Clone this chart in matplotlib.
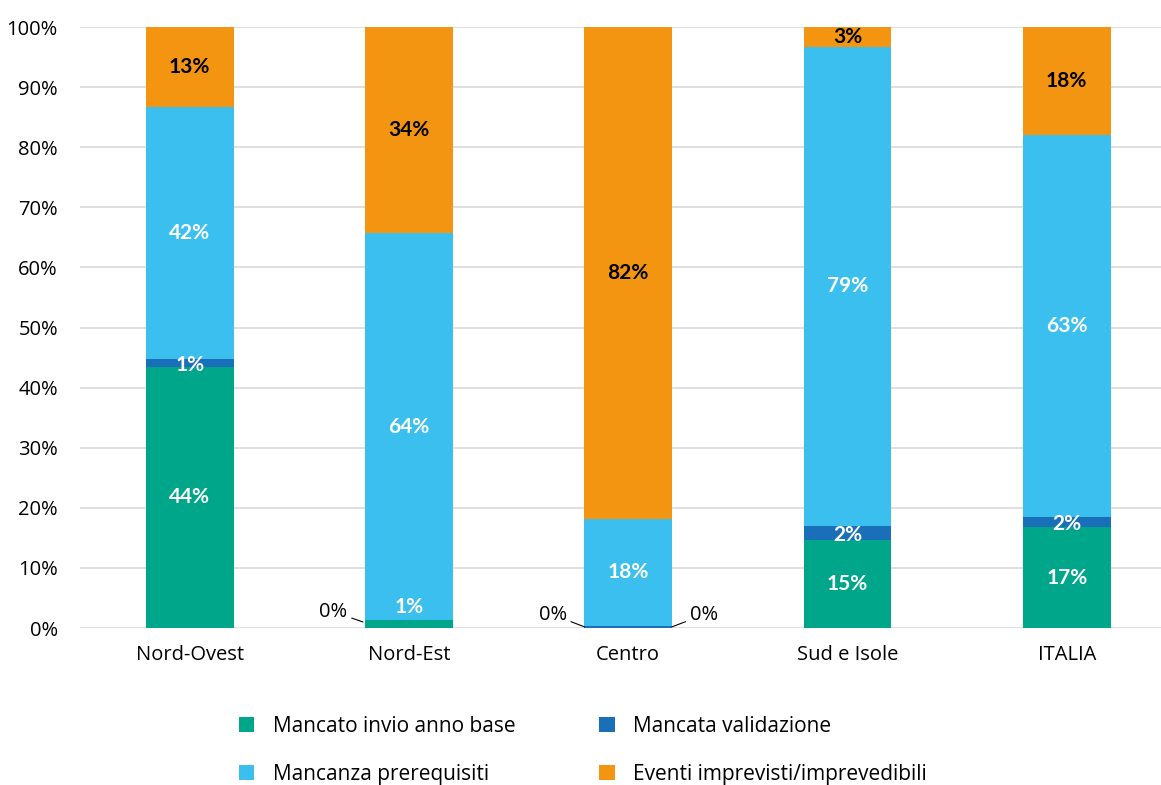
import matplotlib.pyplot as plt
import numpy as np

regioni = ['Nord-Ovest', 'Nord-Est', 'Centro', 'Sud e Isole', 'ITALIA']
serie = ['Mancato invio anno base', 'Mancata validazione',
         'Mancanza prerequisiti', 'Eventi imprevisti/imprevedibili']
invio = [43.5, 1.3, 0.0, 14.7, 16.8]
validazione = [1.2, 0.0, 0.3, 2.3, 1.7]
prerequisiti = [42.0, 64.4, 17.9, 79.7, 63.5]
eventi = [13.3, 34.3, 81.8, 3.3, 18.0]
etichette = [
    ['44%', '1%', '42%', '13%'],
    ['1%', '0%', '64%', '34%'],
    ['0%', '0%', '18%', '82%'],
    ['15%', '2%', '79%', '3%'],
    ['17%', '2%', '63%', '18%'],
]
colori = ['#00A68A', '#1A70B8', '#3BBFEF', '#F39510']
col_testo = ['white', 'white', 'white', 'black']

plt.rcParams['font.family'] = ['Open Sans', 'DejaVu Sans']
FS = 14.5

fig = plt.figure(figsize=(11.61, 7.85), dpi=100)
ax = fig.add_axes([0.069, 0.2, 0.931, 0.7656])

x = np.arange(len(regioni))
dati = [invio, validazione, prerequisiti, eventi]
base = np.zeros(len(regioni))
barre = []
for vals, col, nome in zip(dati, colori, serie):
    b = ax.bar(x, vals, bottom=base, width=0.4, color=col, label=nome, zorder=3)
    barre.append(b)
    base = base + np.array(vals)

# etichette dentro le barre
base = np.zeros(len(regioni))
for j, vals in enumerate(dati):
    for i, v in enumerate(vals):
        lab = etichette[i][j]
        if v >= 1.0:
            y = base[i] + v / 2
            if j == 1 and v < 2.5:
                y = base[i] + v / 2 - 0.3
            if i == 1 and j == 0:
                y = 3.5
            ax.text(x[i], y, lab, ha='center', va='center', color=col_testo[j],
                    fontsize=15, fontweight='bold', family=['Lato', 'DejaVu Sans'],
                    zorder=5)
    base = base + np.array(vals)

# etichette esterne con linee guida
ax.annotate('0%', xy=(x[1] - 0.21, 1.0), xytext=(x[1] - 0.28, 2.7),
            ha='right', va='center', fontsize=FS,
            arrowprops=dict(arrowstyle='-', color='black', lw=0.8, shrinkA=1, shrinkB=0))
ax.annotate('0%', xy=(x[2] - 0.2, 0.2), xytext=(x[2] - 0.28, 2.2),
            ha='right', va='center', fontsize=FS,
            arrowprops=dict(arrowstyle='-', color='black', lw=0.8, shrinkA=1, shrinkB=0))
ax.annotate('0%', xy=(x[2] + 0.2, 0.2), xytext=(x[2] + 0.28, 2.2),
            ha='left', va='center', fontsize=FS,
            arrowprops=dict(arrowstyle='-', color='black', lw=0.8, shrinkA=1, shrinkB=0))

ax.set_ylim(0, 100)
ax.set_xlim(-0.5, 4.43)
ax.set_yticks(np.arange(0, 101, 10))
ax.set_yticklabels([f'{v}%' for v in range(0, 101, 10)])
ax.set_xticks(x)
ax.set_xticklabels(regioni)
ax.tick_params(axis='both', length=0, labelsize=FS)
ax.tick_params(axis='x', pad=12)
ax.tick_params(axis='y', pad=16)
ax.yaxis.grid(True, color='#D9D9D9', lw=1.2, zorder=0)
ax.set_axisbelow(True)
for s in ax.spines.values():
    s.set_visible(False)

h = [barre[0], barre[2], barre[1], barre[3]]
l = [serie[0], serie[2], serie[1], serie[3]]
fig.legend(h, l, loc='center', bbox_to_anchor=(0.502, 0.044), ncol=2, frameon=False,
           fontsize=15, handlelength=0.75, handleheight=0.75, columnspacing=4.0,
           labelspacing=1.3, handletextpad=0.9)

fig.savefig('out.png', dpi=100)
